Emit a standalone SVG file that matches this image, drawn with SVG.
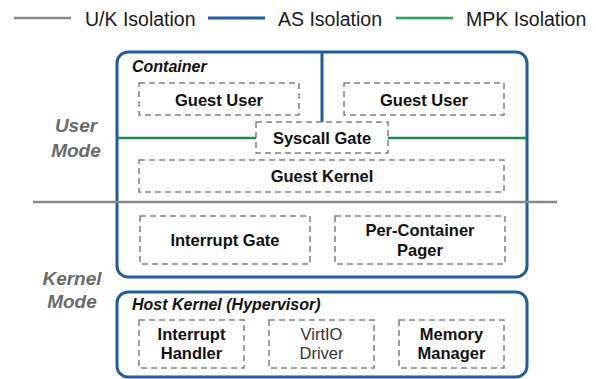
<svg xmlns="http://www.w3.org/2000/svg" width="596" height="379" viewBox="0 0 596 379">
<style>
text{font-family:"Liberation Sans",Arial,Helvetica,sans-serif;}
.leg{font-size:19.5px;fill:#1a1a1a;}
.box{fill:none;stroke:#1f5c99;stroke-width:3;}
.dash{fill:#fff;stroke:#808080;stroke-width:1.5;stroke-dasharray:6,4;}
.lbl{font-size:16.5px;font-weight:bold;fill:#111;text-anchor:middle;}
.reg{font-size:16.5px;fill:#333;text-anchor:middle;}
.title{font-size:16px;font-weight:bold;font-style:italic;fill:#111;}
.mode{font-size:19px;font-weight:bold;font-style:italic;fill:#6b6b6b;text-anchor:middle;}
.uk{stroke:#888;stroke-width:2.5;}
.as{stroke:#1f5c99;stroke-width:3;}
.mpk{stroke:#1e8a4c;stroke-width:2.5;}
</style>
<g id="legend">
<line class="uk" x1="14" y1="18" x2="71" y2="18"/>
<text class="leg" x="85" y="26">U/K Isolation</text>
<line class="as" x1="208" y1="18" x2="265" y2="18"/>
<text class="leg" x="278" y="26">AS Isolation</text>
<line class="mpk" x1="396" y1="18" x2="453" y2="18" style="stroke:#2aa05a"/>
<text class="leg" x="466" y="26">MPK Isolation</text>
</g>
<g id="mode-labels">
<text class="mode" x="76" y="132">User</text>
<text class="mode" x="76" y="157">Mode</text>
<text class="mode" x="72" y="285">Kernel</text>
<text class="mode" x="72" y="308">Mode</text>
</g>
<g id="container">
<rect class="box" x="117" y="52" width="410" height="225" rx="11"/>
<text class="title" x="132" y="72">Container</text>
</g>
<g id="connectors">
<line class="as" x1="322" y1="52" x2="322" y2="122"/>
<line class="mpk" x1="118" y1="138" x2="256" y2="138"/>
<line class="mpk" x1="388" y1="138" x2="526" y2="138"/>
<line class="uk" x1="33" y1="202" x2="557" y2="202"/>
</g>
<g id="guest-user-1">
<rect class="dash" x="139" y="83" width="160" height="32"/>
<text class="lbl" x="219" y="106">Guest User</text>
</g>
<g id="guest-user-2">
<rect class="dash" x="344" y="83" width="160" height="32"/>
<text class="lbl" x="424" y="106">Guest User</text>
</g>
<g id="syscall-gate">
<rect class="dash" x="256" y="122" width="132" height="31"/>
<text class="lbl" x="322" y="144">Syscall Gate</text>
</g>
<g id="guest-kernel">
<rect class="dash" x="139" y="160" width="365" height="32"/>
<text class="lbl" x="322" y="182">Guest Kernel</text>
</g>
<g id="interrupt-gate">
<rect class="dash" x="140" y="216" width="170" height="48"/>
<text class="lbl" x="225" y="246">Interrupt Gate</text>
</g>
<g id="pager">
<rect class="dash" x="335" y="216" width="170" height="48"/>
<text class="lbl" x="420" y="236">Per-Container</text>
<text class="lbl" x="420" y="256">Pager</text>
</g>
<g id="host-kernel">
<rect class="box" x="117" y="292" width="410" height="85" rx="11"/>
<text class="title" x="132" y="310">Host Kernel (Hypervisor)</text>
</g>
<g id="interrupt-handler">
<rect class="dash" x="139" y="320" width="105" height="48"/>
<text class="lbl" x="191.5" y="340">Interrupt</text>
<text class="lbl" x="191.5" y="359">Handler</text>
</g>
<g id="virtio-driver">
<rect class="dash" x="269" y="320" width="105" height="48"/>
<text class="reg" x="321.5" y="340">VirtIO</text>
<text class="reg" x="321.5" y="359">Driver</text>
</g>
<g id="memory-manager">
<rect class="dash" x="399" y="320" width="105" height="48"/>
<text class="lbl" x="451.5" y="340">Memory</text>
<text class="lbl" x="451.5" y="359">Manager</text>
</g>
</svg>
